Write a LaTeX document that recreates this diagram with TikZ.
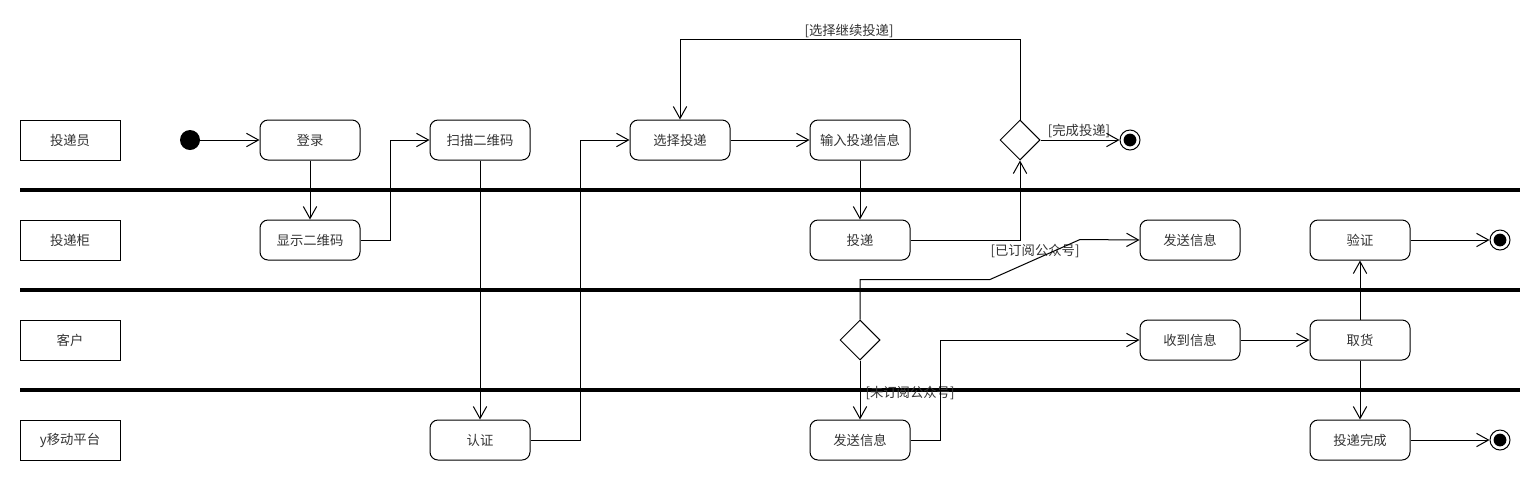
\documentclass[tikz,border=0pt]{standalone}
\usepackage{fontspec}
\setmainfont{Noto Sans CJK SC}
\usetikzlibrary{arrows.meta,shapes.geometric}
\begin{document}
\begin{tikzpicture}[x=0.75pt,y=-0.75pt,
  every node/.style={font=\fontsize{10pt}{12pt}\selectfont, text=black!80},
  lanebox/.style={draw, line width=0.75pt, minimum width=75pt, minimum height=30pt, inner sep=0pt},
  actbox/.style={draw, line width=0.75pt, rounded corners=6pt, minimum width=75pt, minimum height=30pt, inner sep=0pt},
  decision/.style={draw, diamond, aspect=1, line width=0.75pt, minimum width=30pt, minimum height=30pt, inner sep=0pt},
  startdot/.style={circle, fill=black, minimum size=15pt, inner sep=0pt},
  enddot/.style={circle, draw, line width=0.75pt, fill=white, minimum size=15pt, inner sep=0pt,
     path picture={\fill[black] (path picture bounding box.center) circle (4.8pt);}},
  sep/.style={line width=3pt},
  arr/.style={line width=0.75pt, -{Straight Barb[length=9pt,width=10pt,line width=0.75pt]}},
  guard/.style={inner sep=1pt}
]
\useasboundingbox (0,0) rectangle (1540,480);
% lane separators
\draw[sep] (20,190) -- (1520,190);
\draw[sep] (20,290) -- (1520,290);
\draw[sep] (20,390) -- (1520,390);
% lane labels
\node[lanebox] (l1) at (70,140) {投递员};
\node[lanebox] (l2) at (70,240) {投递柜};
\node[lanebox] (l3) at (70,340) {客户};
\node[lanebox] (l4) at (70,440) {y移动平台};
% nodes
\node[startdot] (start) at (190,140) {};
\node[actbox] (login) at (310,140) {登录};
\node[actbox] (show) at (310,240) {显示二维码};
\node[actbox] (scan) at (480,140) {扫描二维码};
\node[actbox] (auth) at (480,440) {认证};
\node[actbox] (sel) at (680,140) {选择投递};
\node[actbox] (input) at (860,140) {输入投递信息};
\node[actbox] (put) at (860,240) {投递};
\node[decision] (d1) at (1020,140) {};
\node[enddot] (e1) at (1130,140) {};
\node[decision] (d2) at (860,340) {};
\node[actbox] (send1) at (1190,240) {发送信息};
\node[actbox] (send2) at (860,440) {发送信息};
\node[actbox] (recv) at (1190,340) {收到信息};
\node[actbox] (verify) at (1360,240) {验证};
\node[actbox] (pick) at (1360,340) {取货};
\node[actbox] (done) at (1360,440) {投递完成};
\node[enddot] (e2) at (1500,240) {};
\node[enddot] (e3) at (1500,440) {};
% guard labels
\node[guard] (g1) at (849,31) {[选择继续投递]};
\node[guard] (g2) at (1079,131) {[完成投递]};
\node[guard] (g3) at (1035,251) {[已订阅公众号]};
\node[guard] (g4) at (910,393) {[未订阅公众号]};
% connectors
\draw[arr] (start) -- (login);
\draw[arr] (login) -- (show);
\draw[arr] (show.east) -- ++(30,0) |- (scan.west);
\draw[arr] (scan) -- (auth);
\draw[arr] (auth.east) -- ++(50,0) |- (sel.west);
\draw[arr] (sel) -- (input);
\draw[arr] (input) -- (put);
\draw[arr] (put.east) -| (d1.south);
\draw[arr] (d1.north) -- ++(0,-80) -| (sel.north);
\draw[arr] (d1.east) -- (e1);
\draw[arr] (d2.north) -- ++(0,-40) -- ++(130,0) -- ++(90,-40) -- (send1.west);
\draw[arr] (d2.south) -- (send2.north);
\draw[arr] (send2.east) -- ++(30,0) |- (recv.west);
\draw[arr] (recv) -- (pick);
\draw[arr] (pick) -- (verify);
\draw[arr] (pick) -- (done);
\draw[arr] (verify) -- (e2);
\draw[arr] (done) -- (e3);
\end{tikzpicture}
\end{document}
